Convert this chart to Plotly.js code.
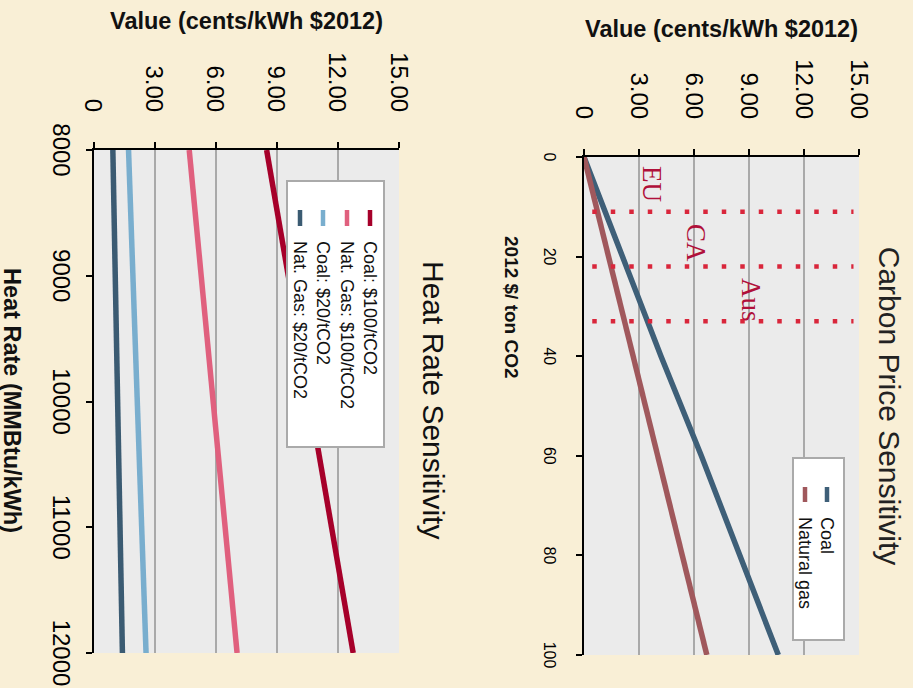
<!DOCTYPE html>
<html>
<head>
<meta charset="utf-8">
<script src="https://cdn.plot.ly/plotly-3.0.1.min.js"></script>
<style>
  html, body { margin: 0; padding: 0; width: 913px; height: 688px; overflow: hidden; background: #f9efd6; }
  #plot { position: absolute; left: 0; top: 0; width: 688px; height: 913px;
          transform-origin: 0 0; transform: translate(913px, 0) rotate(90deg); }
</style>
</head>
<body>
<div id="plot"></div>
<script>
// ---- Carbon price sensitivity data ----
var carbonPrice = [0, 20, 40, 60, 80, 100];
var coalValue   = [0, 2.1, 4.2, 6.4, 8.5, 10.6];
var gasValue    = [0, 1.35, 2.7, 4.05, 5.35, 6.7];
var carbonTicks = [0, 20, 40, 60, 80, 100];
var carbonSeriesNames = ['Coal', 'Natural gas'];

// policy reference prices
var policyNames  = ['EU', 'CA', 'Aus'];
var policyPrices = [11, 22, 33];
var policyLabelX = [5.4, 17.2, 28.7];
var policyLabelY = [3.7, 6.1, 9.1];

// ---- Heat rate sensitivity data ----
var heatRate = [8000, 9000, 10000, 11000, 12000];
var coal100  = [8.5, 9.55, 10.6, 11.7, 12.75];
var gas100   = [4.7, 5.3, 5.88, 6.45, 7.05];
var coal20   = [1.72, 1.93, 2.15, 2.36, 2.58];
var gas20    = [0.95, 1.07, 1.18, 1.3, 1.42];
var heatTicks = [8000, 9000, 10000, 11000, 12000];
var heatTickText = ['8000', '9000', '10000', '11000', '12000'];
var heatSeriesNames = ['Coal: $100/tCO2', 'Nat. Gas: $100/tCO2', 'Coal: $20/tCO2', 'Nat. Gas: $20/tCO2'];

// ---- value axis ticks ----
var valueTicks = [0, 3, 6, 9, 12, 15];
var valueTickText = ['0', '3.00', '6.00', '9.00', '12.00', '15.00'];

var carbonColors = ['#3e5f78', '#a0585c'];
var heatColors = ['#a6002a', '#e0607e', '#79aece', '#3b5b72'];

var traces = [
  {x: carbonPrice, y: coalValue, name: carbonSeriesNames[0], mode: 'lines', line: {color: carbonColors[0], width: 5.5},
   xaxis: 'x', yaxis: 'y', showlegend: false},
  {x: carbonPrice, y: gasValue, name: carbonSeriesNames[1], mode: 'lines', line: {color: carbonColors[1], width: 5.5},
   xaxis: 'x', yaxis: 'y', showlegend: false}
];
[coal100, gas100, coal20, gas20].forEach(function (vals, i) {
  traces.push({x: heatRate, y: vals, name: heatSeriesNames[i], mode: 'lines',
               line: {color: heatColors[i], width: 5.5}, xaxis: 'x2', yaxis: 'y2', showlegend: false});
});

var shapes = policyPrices.map(function (p) {
  return {type: 'line', xref: 'x', yref: 'y domain', x0: p, x1: p, y0: 0.03, y1: 0.98,
          line: {color: '#d9263b', width: 4.5, dash: '4.5px,14px'}};
});

var annotations = policyNames.map(function (n, i) {
  return {text: n, xref: 'x', yref: 'y', x: policyLabelX[i], y: policyLabelY[i], showarrow: false,
          font: {family: 'Liberation Serif, Times New Roman, serif', size: 27, color: '#b0103a'}};
});

// ---- legends (drawn in the unrotated frame, pixel positions) ----
function px(u) { return u / 688; }
function py(v) { return 1 - v / 913; }
function legendBox(u0, u1, v0, v1) {
  shapes.push({type: 'rect', xref: 'paper', yref: 'paper', layer: 'above',
               x0: px(u0), x1: px(u1), y0: py(v1), y1: py(v0),
               fillcolor: '#ffffff', line: {color: '#aaaaaa', width: 2}});
}
function legendEntry(name, color, symU0, symU1, textU, v) {
  shapes.push({type: 'line', xref: 'paper', yref: 'paper', layer: 'above',
               x0: px(symU0), x1: px(symU1), y0: py(v), y1: py(v),
               line: {color: color, width: 4.5}});
  annotations.push({text: name, xref: 'paper', yref: 'paper', x: px(textU), y: py(v),
                    xanchor: 'left', yanchor: 'middle', showarrow: false,
                    font: {size: 18, color: '#111'}});
}
legendBox(458, 640, 69, 120);
var carbonRows = [86, 108];
carbonSeriesNames.forEach(function (n, i) { legendEntry(n, carbonColors[i], 487, 502, 515, carbonRows[i]); });
legendBox(181, 447, 529, 626);
var heatRows = [543, 566, 590, 613];
heatSeriesNames.forEach(function (n, i) { legendEntry(n, heatColors[i], 210, 226, 239, heatRows[i]); });

function paperText(t, u, v, size, angle) {
  return {text: t, xref: 'paper', yref: 'paper', x: px(u), y: py(v),
          xanchor: 'center', yanchor: 'middle', showarrow: false, textangle: angle || 0,
          font: {size: size, color: '#111'}};
}
annotations.push(paperText('<b>Value (cents/kWh $2012)</b>', 29, 192, 23.5, -90));
annotations.push(paperText('<b>Value (cents/kWh $2012)</b>', 21, 667, 23.5, -90));
annotations.push(paperText('<b>2012 $/ ton CO2</b>', 307, 401, 19, 0));
annotations.push(paperText('<b>Heat Rate (MMBtu/kWh)</b>', 400, 901, 23.5, 0));
annotations.push(paperText('Heat Rate Sensitivity', 400, 479, 30, 0));

function valueAxis(domain, anchor) {
  return {domain: domain, anchor: anchor, range: [0, 15], tickvals: valueTicks, ticktext: valueTickText,
          ticks: 'outside', ticklen: 6, tickwidth: 2, tickcolor: '#000',
          showline: true, linecolor: '#000', linewidth: 2,
          showgrid: true, gridcolor: '#a9a9a9', gridwidth: 2, zeroline: false,
          tickfont: {size: 24, color: '#000'}, ticklabelstandoff: 25, fixedrange: true};
}

var layout = {
  width: 688, height: 913,
  margin: {l: 0, r: 0, t: 0, b: 0},
  paper_bgcolor: '#f9efd6', plot_bgcolor: '#ebebeb',
  font: {family: 'Liberation Sans, Arial, sans-serif', color: '#111'},
  showlegend: false,
  title: {text: 'Carbon Price Sensitivity', x: 406 / 688, xanchor: 'center', y: 1 - 24 / 913, yanchor: 'middle',
          font: {size: 30, color: '#222'}},
  xaxis: {domain: [157 / 688, 655 / 688], anchor: 'y', range: [0, 100], tickvals: carbonTicks,
          ticks: 'outside', ticklen: 6, tickwidth: 2, tickcolor: '#000',
          showline: true, linecolor: '#000', linewidth: 2, showgrid: false, zeroline: false,
          tickfont: {size: 16, color: '#000'}, ticklabelstandoff: 13, fixedrange: true},
  yaxis: valueAxis([1 - 329 / 913, 1 - 54 / 913], 'x'),
  xaxis2: {domain: [150 / 688, 653 / 688], anchor: 'y2', range: [8000, 12000], tickvals: heatTicks,
           ticktext: heatTickText, tickangle: 0,
           ticks: 'outside', ticklen: 6, tickwidth: 2, tickcolor: '#000',
           showline: true, linecolor: '#000', linewidth: 2, showgrid: false, zeroline: false,
           tickfont: {size: 24, color: '#000'}, ticklabelstandoff: 4, fixedrange: true},
  yaxis2: valueAxis([1 - 819.5 / 913, 1 - 514 / 913], 'x2'),
  shapes: shapes,
  annotations: annotations
};

Plotly.newPlot('plot', traces, layout, {displayModeBar: false, staticPlot: true});
</script>
</body>
</html>
